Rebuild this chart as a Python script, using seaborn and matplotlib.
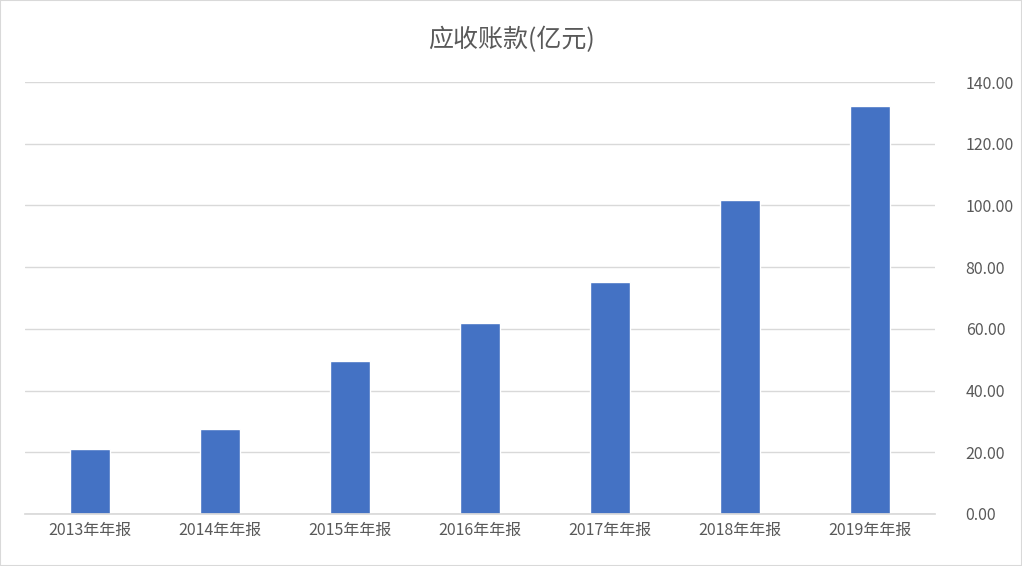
import matplotlib
matplotlib.use("Agg")
import matplotlib.pyplot as plt
import seaborn as sns
import pandas as pd

categories = ["2013年年报","2014年年报","2015年年报","2016年年报","2017年年报","2018年年报","2019年年报"]
values = [21.1, 27.5, 49.6, 61.9, 75.2, 101.7, 132.2]
yticks = [0,20,40,60,80,100,120,140]

sns.set_theme(style="white")
plt.rcParams['font.family'] = ['Noto Sans CJK SC', 'DejaVu Sans']

df = pd.DataFrame({"cat": categories, "val": values})
fig = plt.figure(figsize=(10.22,5.66), dpi=100)
ax = fig.add_axes([0.0245, 0.092, 0.8905, 0.763])
sns.barplot(data=df, x="cat", y="val", color="#4472C4", saturation=1, width=0.31, ax=ax)
ax.set_ylim(0,140)
ax.set_yticks(yticks)
ax.set_yticklabels([f"{v:.2f}" for v in yticks], color="#595959", fontsize=11.5)
ax.yaxis.tick_right()
ax.tick_params(axis='y', length=0, pad=22)
ax.tick_params(axis='x', length=0, colors="#595959", labelsize=11.5, pad=6)
ax.yaxis.grid(True, color="#D9D9D9", linewidth=1)
ax.set_axisbelow(True)
for s in ["top","left","right"]:
    ax.spines[s].set_visible(False)
ax.spines["bottom"].set_color("#D9D9D9")
ax.set_xlabel("")
ax.set_ylabel("")
fig.text(0.5, 0.93, "应收账款(亿元)", ha="center", va="center", fontsize=18, color="#595959")
fig.patches.append(plt.Rectangle((0,0),1,1, transform=fig.transFigure, fill=False, edgecolor="#D9D9D9", linewidth=1.5))
fig.savefig("out.png", dpi=100)
